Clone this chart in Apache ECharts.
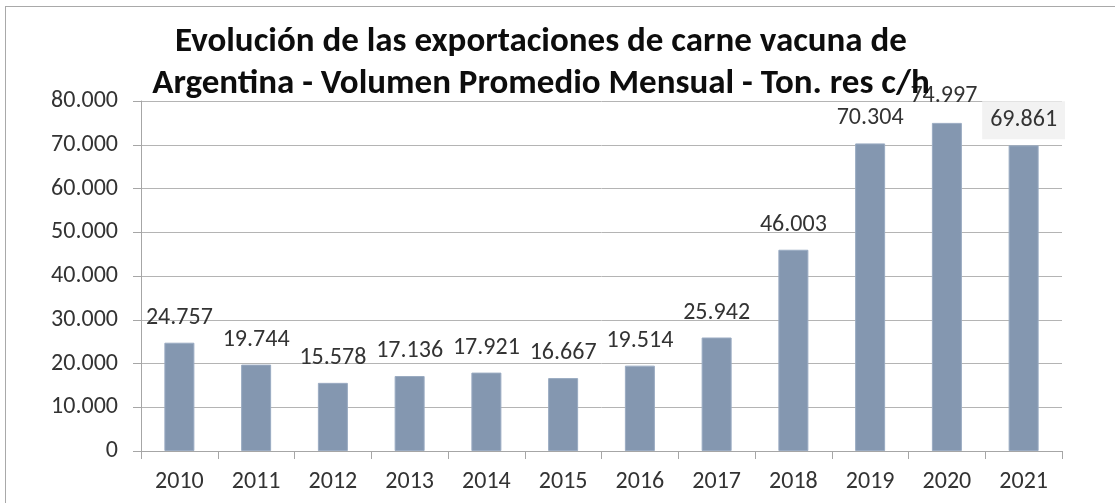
<!DOCTYPE html>
<html>
<head>
<meta charset="utf-8">
<script src="https://cdn.jsdelivr.net/npm/echarts@6/dist/echarts.min.js"></script>
<style>
	html, body { margin: 0; padding: 0; background: #fff; overflow: hidden; }
	#frame { position: absolute; left: 5px; top: 6px; width: 1120px; height: 520px; border: 1px solid #a9a9a9; box-sizing: border-box; }
	#chart { position: absolute; left: 0; top: 0; width: 1115px; height: 503px; }
</style>
</head>
<body>
<div id="frame"></div>
<div id="chart"></div>
<script>
var years = ['2010', '2011', '2012', '2013', '2014', '2015', '2016', '2017', '2018', '2019', '2020', '2021'];
var volumes = [24757, 19744, 15578, 17136, 17921, 16667, 19514, 25942, 46003, 70304, 74997, 69861];
var yTicks = [0, 10000, 20000, 30000, 40000, 50000, 60000, 70000, 80000];

var FONT = "Carlito, 'Open Sans', sans-serif";

// separador de miles con punto
function fmt(v){
	return String(Math.round(v)).replace(/\B(?=(\d{3})+(?!\d))/g, '.');
}

function drawChart(){
	var myChart = echarts.init(document.getElementById('chart'));

	var barData = volumes.map(function(v, i){
		var item = { value: v };
		if(years[i] === '2020'){
			item.label = { offset: [-3, -2] };
		}
		if(years[i] === '2021'){
			item.label = { backgroundColor: '#f2f2f2', padding: [6, 8], distance: 6 };
		}
		return item;
	});

	var option = {
		animation: false,
		title: {
			text: 'Evolución de las exportaciones de carne vacuna de\nArgentina - Volumen Promedio Mensual - Ton. res c/h',
			left: 536,
			textAlign: 'center',
			top: 16,
			textStyle: {
				fontFamily: FONT,
				fontWeight: 'bold',
				fontSize: 35,
				lineHeight: 42,
				color: '#0d0d0d'
			}
		},
		grid: { left: 141, right: 53, top: 101, bottom: 52 },
		xAxis: {
			type: 'category',
			data: years,
			axisLine: { lineStyle: { color: '#a6a6a6', width: 1 } },
			axisTick: { show: true, length: 8, alignWithLabel: false, lineStyle: { color: '#a6a6a6' } },
			axisLabel: { fontFamily: FONT, fontSize: 24, color: '#333', margin: 19 }
		},
		yAxis: {
			type: 'value',
			min: yTicks[0],
			max: yTicks[yTicks.length - 1],
			interval: yTicks[1] - yTicks[0],
			axisLine: { show: true, lineStyle: { color: '#a6a6a6', width: 1 } },
			axisTick: { show: true, length: 8, lineStyle: { color: '#a6a6a6' } },
			axisLabel: { fontFamily: FONT, fontSize: 24, color: '#333', margin: 23, formatter: fmt },
			splitLine: { show: true, lineStyle: { color: '#b4b4b4', width: 1 } }
		},
		series: [
			{
				type: 'bar',
				data: barData,
				barWidth: 30,
				itemStyle: { color: '#8497b0', borderColor: '#9aabc2', borderWidth: 1 },
				label: {
					show: true,
					position: 'top',
					distance: 12,
					fontFamily: FONT,
					fontSize: 24,
					lineHeight: 26,
					color: '#333',
					formatter: function(p){ return fmt(p.value); }
				}
			}
		]
	};
	myChart.setOption(option);
}

window.addEventListener('load', drawChart);
</script>
</body>
</html>
